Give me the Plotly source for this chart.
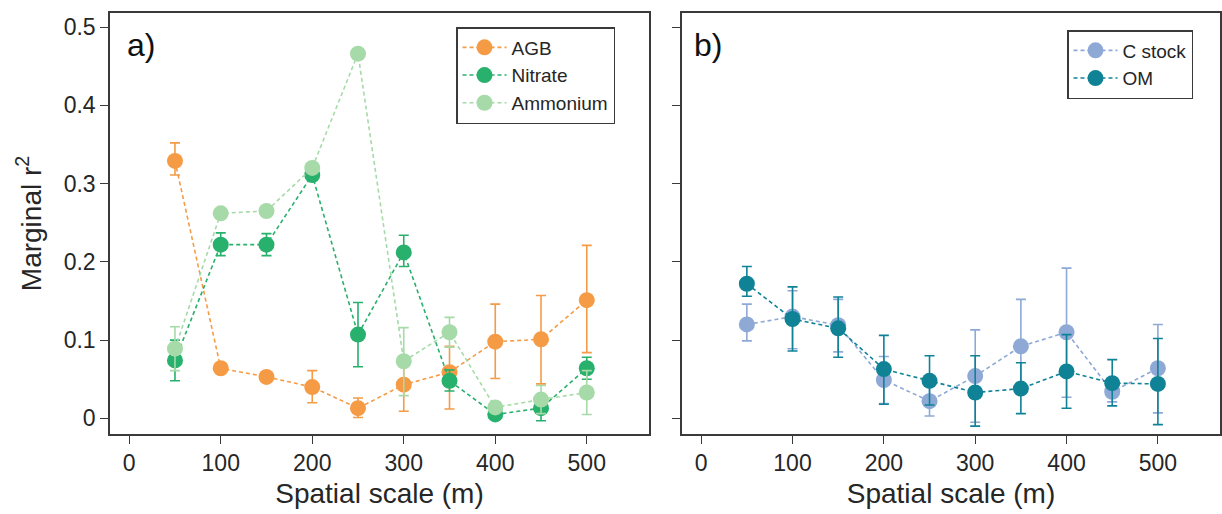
import plotly.graph_objects as go

# ---------------- data ----------------
scale_m = [50, 100, 150, 200, 250, 300, 350, 400, 450, 500]

agb = [0.329, 0.064, 0.053, 0.040, 0.013, 0.043, 0.059, 0.098, 0.101, 0.151]
agb_up = [0.023, 0.005, 0.004, 0.021, 0.013, 0.034, 0.033, 0.048, 0.056, 0.070]
agb_lo = [0.018, 0.005, 0.004, 0.020, 0.012, 0.034, 0.047, 0.047, 0.057, 0.067]

nitrate = [0.074, 0.222, 0.222, 0.311, 0.107, 0.212, 0.048, 0.005, 0.013, 0.064]
nitrate_up = [0.026, 0.015, 0.014, 0.006, 0.041, 0.022, 0.014, 0.005, 0.015, 0.014]
nitrate_lo = [0.026, 0.014, 0.014, 0.006, 0.041, 0.018, 0.013, 0.005, 0.016, 0.014]

ammonium = [0.089, 0.262, 0.265, 0.320, 0.466, 0.073, 0.110, 0.014, 0.024, 0.033]
ammonium_up = [0.028, 0.004, 0.004, 0.004, 0.004, 0.043, 0.019, 0.005, 0.018, 0.028]
ammonium_lo = [0.028, 0.004, 0.004, 0.004, 0.004, 0.044, 0.019, 0.005, 0.018, 0.028]

cstock = [0.120, 0.130, 0.119, 0.049, 0.022, 0.054, 0.092, 0.110, 0.034, 0.064]
cstock_up = [0.026, 0.033, 0.033, 0.030, 0.019, 0.059, 0.060, 0.082, 0.016, 0.056]
cstock_lo = [0.021, 0.041, 0.034, 0.030, 0.019, 0.059, 0.059, 0.083, 0.013, 0.057]

om = [0.172, 0.127, 0.115, 0.063, 0.048, 0.033, 0.038, 0.060, 0.045, 0.044]
om_up = [0.022, 0.041, 0.040, 0.043, 0.032, 0.047, 0.033, 0.047, 0.030, 0.058]
om_lo = [0.016, 0.041, 0.037, 0.045, 0.031, 0.043, 0.032, 0.047, 0.029, 0.052]

x_ticks = [0, 100, 200, 300, 400, 500]
y_ticks = [0, 0.1, 0.2, 0.3, 0.4, 0.5]
y_tick_labels = ["0", "0.1", "0.2", "0.3", "0.4", "0.5"]

C_AGB = "#F59B45"
C_NIT = "#28B06D"
C_AMM = "#A6DAA8"
C_CST = "#8EA9D5"
C_OM = "#0F8296"

FONT = "Liberation Sans, Arial, sans-serif"
TXT = "#262626"
AX = "#3a3a3a"

fig = go.Figure()


def add_series(name, y, up, lo, color, xaxis, yaxis, legend):
    fig.add_trace(go.Scatter(
        x=scale_m, y=y, name=name, mode="lines+markers",
        xaxis=xaxis, yaxis=yaxis, legend=legend,
        line=dict(color=color, width=1.6, dash="4px,3px"),
        marker=dict(color=color, size=16, line=dict(width=0)),
        error_y=dict(type="data", symmetric=False, array=up, arrayminus=lo,
                     color=color, thickness=1.6, width=5),
    ))


add_series("AGB", agb, agb_up, agb_lo, C_AGB, "x", "y", "legend")
add_series("Nitrate", nitrate, nitrate_up, nitrate_lo, C_NIT, "x", "y", "legend")
add_series("Ammonium", ammonium, ammonium_up, ammonium_lo, C_AMM, "x", "y", "legend")
add_series("C stock", cstock, cstock_up, cstock_lo, C_CST, "x2", "y2", "legend2")
add_series("OM", om, om_up, om_lo, C_OM, "x2", "y2", "legend2")

W, H = 1222, 514
ydom = [1 - 434 / H, 1 - 13 / H]
xr = [-21, 568]
yr = [-0.020, 0.518]

axis_common = dict(showline=True, linecolor=AX, linewidth=1.5, mirror=True,
                   ticks="outside", ticklen=8, tickwidth=1.3, tickcolor=AX,
                   showgrid=False, zeroline=False, automargin=False,
                   tickfont=dict(family=FONT, size=23, color=TXT))

title_font = dict(family=FONT, size=28, color=TXT)

fig.update_layout(
    width=W, height=H,
    margin=dict(l=0, r=0, t=0, b=0),
    paper_bgcolor="white", plot_bgcolor="white",
    font=dict(family=FONT, color=TXT),
    xaxis=dict(domain=[110 / W, 649 / W], range=xr, tickvals=x_ticks, anchor="y",
               title=dict(text="Spatial scale (m)", font=title_font, standoff=8),
               **axis_common),
    yaxis=dict(domain=ydom, range=yr, tickvals=y_ticks, ticktext=y_tick_labels, anchor="x",
               title=dict(text="Marginal r<sup>2</sup>", font=title_font, standoff=14),
               **axis_common),
    xaxis2=dict(domain=[682 / W, 1220 / W], range=xr, tickvals=x_ticks, anchor="y2",
                title=dict(text="Spatial scale (m)", font=title_font, standoff=8),
                **axis_common),
    yaxis2=dict(domain=ydom, range=yr, tickvals=y_ticks, showticklabels=False, anchor="x2",
                **axis_common),
    legend=dict(x=456 / W, y=1 - 27 / H, xanchor="left", yanchor="top",
                bordercolor=AX, borderwidth=1.5, bgcolor="white",
                font=dict(family=FONT, size=19, color=TXT), tracegroupgap=0,
                itemwidth=44),
    legend2=dict(x=1067 / W, y=1 - 30 / H, xanchor="left", yanchor="top",
                 bordercolor=AX, borderwidth=1.5, bgcolor="white",
                 font=dict(family=FONT, size=19, color=TXT), tracegroupgap=0,
                 itemwidth=44),
    showlegend=True,
    annotations=[
        dict(text="a)", x=125 / W, y=1 - 45 / H, xref="paper", yref="paper",
             xanchor="left", yanchor="middle", showarrow=False,
             font=dict(family=FONT, size=32, color="#111")),
        dict(text="b)", x=692 / W, y=1 - 45 / H, xref="paper", yref="paper",
             xanchor="left", yanchor="middle", showarrow=False,
             font=dict(family=FONT, size=32, color="#111")),
    ],
)

fig.write_html("out.html", config={"displayModeBar": False},
               post_script="document.body.style.margin='0';")
